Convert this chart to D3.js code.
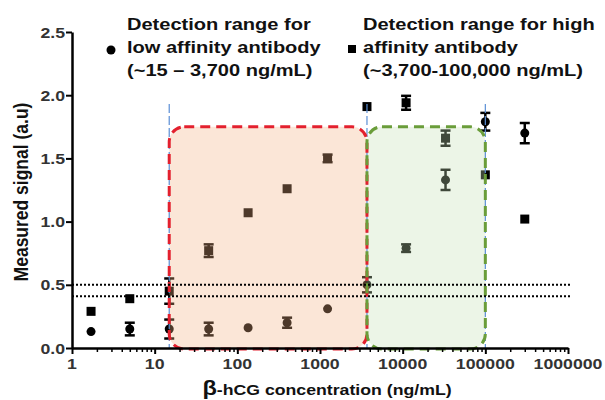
<!DOCTYPE html>
<html>
<head>
<meta charset="utf-8">
<script src="https://cdn.jsdelivr.net/npm/d3@7"></script>
<style>
body{margin:0;background:#fff}
svg{display:block}
</style>
</head>
<body>
<script>
// concentrations (ng/mL) and measured signals
let conc    = [1.7, 5, 15, 45, 135, 400, 1235, 3700, 11000, 33000, 100000, 300000];
let lowAff  = [0.13, 0.15, 0.15, 0.15, 0.16, 0.20, 0.31, 0.50, 0.79, 1.33, 1.79, 1.70];
let lowErr  = [0, 0.05, 0.075, 0.05, 0, 0.04, 0, 0.06, 0.03, 0.08, 0.07, 0.08];
let highAff = [0.29, 0.39, 0.45, 0.77, 1.07, 1.26, 1.50, 1.91, 1.94, 1.66, 1.37, 1.02];
let highErr = [0, 0, 0.10, 0.05, 0, 0, 0.03, 0, 0.055, 0.06, 0, 0];

let xTicks = [1, 10, 100, 1000, 10000, 100000, 1000000];
let yTicks = [0, 0.5, 1.0, 1.5, 2.0, 2.5];
let lowRange  = [15, 3700];
let highRange = [3700, 100000];
let boxTop = 1.75;
let rangeMarks = [15, 3700, 100000];
let markTop = 1.93;
let cutoffs = [0.5, 0.41];

const width = 605, height = 400;
const SX = 1.18; // source picture is stretched horizontally
const FONT = "'Liberation Sans', Arial, Helvetica, sans-serif";

const x = d3.scaleLog().domain([1, 1000000]).range([72, 568]);
const y = d3.scaleLinear().domain([0, 2.5]).range([348, 32]);

const svg = d3.select('body').append('svg')
  .attr('width', width)
  .attr('height', height);

function label(txt, px, py, size, anchor, color){
  return svg.append('text')
    .attr('transform', 'translate(' + px + ',' + py + ') scale(' + SX + ',1)')
    .attr('text-anchor', anchor)
    .attr('fill', color || '#111')
    .style('font', 'bold ' + size + 'px ' + FONT)
    .text(txt);
}

// markers
const pts = svg.append('g');
function errBars(vals, errs){
  conc.forEach((c, i) => {
    if(!errs[i]) return;
    let cx = x(c), y0 = y(vals[i] - errs[i]), y1 = y(vals[i] + errs[i]);
    pts.append('line').attr('x1', cx).attr('x2', cx).attr('y1', y0).attr('y2', y1)
      .attr('stroke', '#000').attr('stroke-width', 2.5);
    [y0, y1].forEach(yy => {
      pts.append('line').attr('x1', cx - 5).attr('x2', cx + 5).attr('y1', yy).attr('y2', yy)
        .attr('stroke', '#000').attr('stroke-width', 2.5);
    });
  });
}
errBars(highAff, highErr);
errBars(lowAff, lowErr);

pts.selectAll('.sq').data(conc).enter().append('rect')
  .attr('x', (d) => x(d) - 4.5)
  .attr('y', (d, i) => y(highAff[i]) - 4.5)
  .attr('width', 9).attr('height', 9)
  .attr('fill', '#000');

pts.selectAll('.ci').data(conc).enter().append('circle')
  .attr('cx', (d) => x(d))
  .attr('cy', (d, i) => y(lowAff[i]))
  .attr('r', 4.5)
  .attr('fill', '#000');

// shaded detection ranges
function box(range, fill, stroke){
  svg.append('rect')
    .attr('x', x(range[0])).attr('y', y(boxTop))
    .attr('width', x(range[1]) - x(range[0]))
    .attr('height', y(0) - y(boxTop) + 1)
    .attr('rx', 15).attr('ry', 15)
    .attr('fill', fill).attr('fill-opacity', 0.32);
  return function(){
    svg.append('rect')
      .attr('x', x(range[0])).attr('y', y(boxTop))
      .attr('width', x(range[1]) - x(range[0]))
      .attr('height', y(0) - y(boxTop) + 1)
      .attr('rx', 15).attr('ry', 15)
      .attr('fill', 'none')
      .attr('stroke', stroke).attr('stroke-width', 3)
      .attr('stroke-dasharray', '10,6');
  };
}
let redEdge = box(lowRange, '#f4b183', '#e3202e');
let greenEdge = box(highRange, '#c5e0b4', '#6a9d3a');

// blue range markers
rangeMarks.forEach(m => {
  svg.append('line')
    .attr('x1', x(m)).attr('x2', x(m))
    .attr('y1', y(markTop)).attr('y2', y(0))
    .attr('stroke', '#5b8fd6').attr('stroke-width', 1.2)
    .attr('stroke-dasharray', '9,3');
});

redEdge();
greenEdge();

// cut-off lines
cutoffs.forEach(c => {
  svg.append('line')
    .attr('x1', 72).attr('x2', 572)
    .attr('y1', y(c)).attr('y2', y(c))
    .attr('stroke', '#000').attr('stroke-width', 2)
    .attr('stroke-dasharray', '2,2');
});

// axes
let minor = [];
for(let e = 0; e < 6; e++){
  for(let k = 2; k < 10; k++) minor.push(k * Math.pow(10, e));
}
svg.append('g').attr('transform', 'translate(0,' + y(0) + ')')
  .call(d3.axisBottom(x).tickValues(minor).tickSize(4).tickSizeOuter(0).tickFormat(''))
  .call(g => g.select('.domain').remove())
  .call(g => g.selectAll('line').attr('stroke-width', 1.5));
svg.append('g').attr('transform', 'translate(0,' + y(0) + ')')
  .call(d3.axisBottom(x).tickValues(xTicks).tickSize(6).tickSizeOuter(0).tickFormat(''))
  .call(g => g.select('.domain').attr('stroke-width', 2.5))
  .call(g => g.selectAll('line').attr('stroke-width', 2));
svg.append('g').attr('transform', 'translate(72,0)')
  .call(d3.axisLeft(y).tickValues(yTicks).tickSize(6).tickSizeOuter(0).tickFormat(''))
  .call(g => g.select('.domain').attr('stroke-width', 2.5))
  .call(g => g.selectAll('line').attr('stroke-width', 2));

xTicks.forEach(t => label(String(t), x(t), 369, 15, 'middle', '#333'));
yTicks.forEach(t => label(t.toFixed(1), 65, y(t) + 5.5, 15, 'end', '#333'));

// axis titles
let xt = label('', 327, 395, 15, 'middle');
xt.append('tspan').style('font-size', '20px').text('\u03b2');
xt.append('tspan').text('-hCG concentration (ng/mL)');

svg.append('text')
  .attr('transform', 'translate(28,192) scale(' + SX + ',1) rotate(-90)')
  .attr('text-anchor', 'middle')
  .attr('fill', '#111')
  .style('font', 'bold 17.5px ' + FONT)
  .text('Measured signal (a.u)');

// legends
svg.append('circle').attr('cx', 111).attr('cy', 50).attr('r', 4.5).attr('fill', '#000');
['Detection range for', 'low affinity antibody', '(~15 \u2013 3,700 ng/mL)']
  .forEach((t, i) => label(t, 127, 30 + i * 23, 17, 'start'));

svg.append('rect').attr('x', 348).attr('y', 45).attr('width', 8).attr('height', 8).attr('fill', '#000');
['Detection range for high', 'affinity antibody', '(~3,700-100,000 ng/mL)']
  .forEach((t, i) => label(t, 363, 30 + i * 23, 17, 'start'));
</script>
</body>
</html>
